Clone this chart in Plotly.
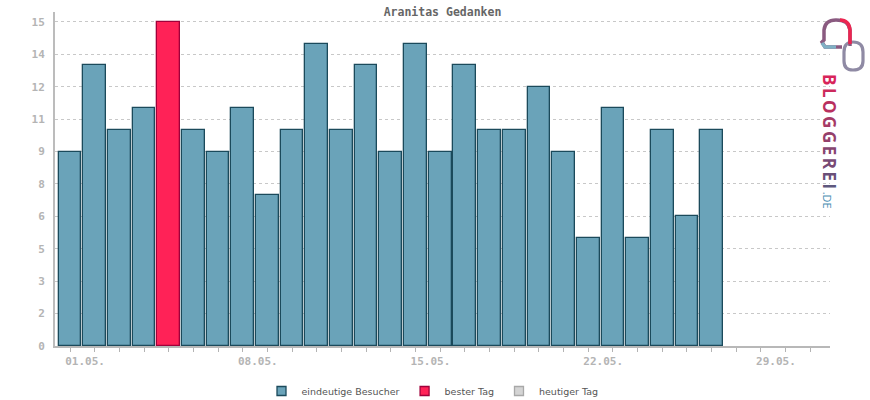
import plotly.graph_objects as go

# ---- data ----
days = list(range(1, 32))
visitors = [9, 13, 10, 11, 15, 10, 9, 11, 7, 10, 14, 10, 13, 9, 14, 9, 13, 10, 10, 12,
            9, 5, 11, 5, 10, 6, 10, None, None, None, None]
best_day = 5
date_labels = {1: "01.05.", 8: "08.05.", 15: "15.05.", 22: "22.05.", 29: "29.05."}
y_tickvals = [0, 1.5, 3, 4.5, 6, 7.5, 9, 10.5, 12, 13.5, 15]
y_ticktext = ["0", "2", "3", "5", "6", "8", "9", "11", "12", "14", "15"]
title_text = "Aranitas Gedanken"
legend_names = ["eindeutige Besucher", "bester Tag", "heutiger Tag"]

W, H = 870, 400
L, R, T, B = 55, 40, 12, 54
PW, PH = W - L - R, H - T - B

def px(x):
    return (x - L) / PW

def py(y):
    return (H - B - y) / PH

blue_fill, blue_line = "#6aa3b9", "#1b4a5b"
red_fill, red_line = "#ff2257", "#a0003a"
gray_fill, gray_line = "#d4d4d4", "#a8a8a8"

fills = [red_fill if d == best_day else blue_fill for d in days]
lines = [red_line if d == best_day else blue_line for d in days]

fig = go.Figure()
fig.add_trace(go.Bar(
    x=days, y=visitors, width=0.92,
    marker=dict(color=fills, line=dict(color=lines, width=1.3)),
    showlegend=False, hoverinfo="x+y",
))

for name, fc, lc in zip(legend_names, [blue_fill, red_fill, gray_fill], [blue_line, red_line, gray_line]):
    fig.add_trace(go.Scatter(
        x=[None], y=[None], mode="markers", name=name,
        marker=dict(symbol="square", size=9, color=fc, line=dict(color=lc, width=1.3)),
    ))

mono = "DejaVu Sans Mono"
tickcol = "#b4b4b4"

fig.update_layout(
    width=W, height=H,
    margin=dict(l=L, r=R, t=T, b=B, pad=0, autoexpand=False),
    paper_bgcolor="white", plot_bgcolor="white",
    title=dict(text=title_text, x=(L + PW / 2) / W, xanchor="center",
               y=1 - 12 / H, yanchor="middle",
               font=dict(family=mono, size=11.5, color="#666666", weight="bold")),
    bargap=0,
    showlegend=True,
    legend=dict(orientation="h", x=0.5 - 10 / PW, xanchor="center", yref="container",
                y=(H - 391) / H, yanchor="middle",
                font=dict(family="DejaVu Sans", size=9.5, color="#555555"),
                itemwidth=30, tracegroupgap=0, bgcolor="rgba(0,0,0,0)"),
    xaxis=dict(
        range=[0.39, 31.8],
        tickvals=days,
        ticktext=[date_labels.get(d, "") for d in days],
        ticks="outside", ticklen=4, tickwidth=1, tickcolor=tickcol,
        ticklabelshift=15,
        showline=True, linecolor="#b8b8b8", linewidth=2,
        showgrid=False, zeroline=False,
        tickfont=dict(family=mono, size=11, color=tickcol, weight="bold"),
    ),
    yaxis=dict(
        range=[0, 15.46],
        tickvals=y_tickvals, ticktext=y_ticktext,
        ticks="", ticklabelstandoff=6,
        showline=True, linecolor="#bcbcbc", linewidth=2,
        showgrid=True, gridcolor="#c8c8c8", griddash="dot", gridwidth=1,
        zeroline=False,
        tickfont=dict(family=mono, size=11, color=tickcol, weight="bold"),
    ),
)

# ---- decorative logo (BLOGGEREI.DE) ----
shapes = []
shapes.append(dict(type="path", xref="paper", yref="paper",
                   path=f"M {px(853)},{py(42)} Q {px(863)},{py(42)} {px(863)},{py(52)} "
                        f"L {px(863)},{py(61)} Q {px(863)},{py(70)} {px(853)},{py(70)} "
                        f"Q {px(844)},{py(70)} {px(844)},{py(61)} L {px(844)},{py(52)} "
                        f"Q {px(844)},{py(42)} {px(853)},{py(42)} Z",
                   line=dict(color="#8f8aa4", width=3.2)))
shapes.append(dict(type="path", xref="paper", yref="paper",
                   path=f"M {px(842)},{py(47)} L {px(825)},{py(47)} L {px(822)},{py(42)} "
                        f"L {px(824)},{py(40)} L {px(824)},{py(30)} Q {px(825)},{py(20)} {px(836)},{py(20)} "
                        f"Q {px(849)},{py(20)} {px(850)},{py(30)} L {px(850)},{py(46)}",
                   line=dict(color="#8a5a80", width=3.5)))
shapes.append(dict(type="path", xref="paper", yref="paper",
                   path=f"M {px(850)},{py(44)} L {px(850)},{py(30)} Q {px(849)},{py(20)} {px(840)},{py(20)}",
                   line=dict(color="#ec2550", width=3.5)))
shapes.append(dict(type="path", xref="paper", yref="paper",
                   path=f"M {px(836)},{py(47)} L {px(825)},{py(47)} L {px(822)},{py(43)}",
                   line=dict(color="#7fb0c4", width=3.5)))
fig.update_layout(shapes=shapes)

letters = "BLOGGEREI"
cols = ["#d8245a", "#cc2a5c", "#b8305f", "#a63a66", "#95406b", "#874570", "#784a74", "#6a5078", "#5e587e"]
logo = "".join(f"<span style='color:{c}'>{ch}</span>" for ch, c in zip(letters, cols))
logo = f"<span style='letter-spacing:2.5px'><b>{logo}</b></span>"
logo += "<span style='color:#4a8db3;font-size:11px'>.DE</span>"
fig.add_annotation(x=px(830), y=py(141), xref="paper", yref="paper",
                   xanchor="center", yanchor="middle",
                   text=logo, showarrow=False, textangle=90,
                   font=dict(family="Open Sans", size=17))

fig.write_html("out.html", config={"displayModeBar": False},
               post_script="document.body.style.margin='0px';")
